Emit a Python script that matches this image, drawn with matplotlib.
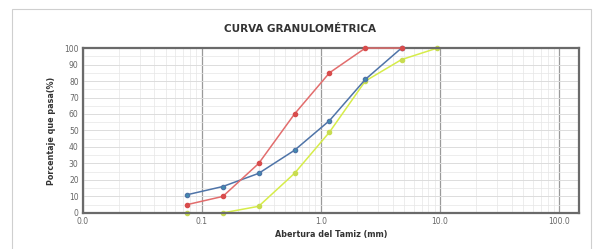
import matplotlib
matplotlib.use("Agg")
import matplotlib.pyplot as plt
from matplotlib.ticker import FixedLocator, NullFormatter
from matplotlib.patches import Rectangle

sieve_sizes = [0.075, 0.15, 0.3, 0.6, 1.18, 2.36, 4.75, 9.5]
blue_sizes = [0.075, 0.15, 0.3, 0.6, 1.18, 2.36, 4.75]
blue_vals = [11, 16, 24, 38, 56, 81, 100]
red_sizes = [0.075, 0.15, 0.3, 0.6, 1.18, 2.36, 4.75]
red_vals = [5, 10, 30, 60, 85, 100, 100]
yellow_sizes = [0.075, 0.15, 0.3, 0.6, 1.18, 2.36, 4.75, 9.5]
yellow_vals = [0, 0, 4, 24, 49, 80, 93, 100]
xtick_vals = [0.01, 0.1, 1, 10, 100]
xtick_labels = ["0.0", "0.1", "1.0", "10.0", "100.0"]
ytick_vals = list(range(0, 101, 10))

fig = plt.figure(figsize=(6, 2.49), dpi=100)
fig.patch.set_facecolor("white")
fig.add_artist(Rectangle((0.02, -0.1), 0.965, 1.065, transform=fig.transFigure,
                         fill=False, edgecolor="#cfcfcf", linewidth=0.8))

ax = fig.add_axes([0.138, 0.145, 0.827, 0.662])
ax.set_xscale("log")
ax.set_xlim(0.01, 147)
ax.set_ylim(0, 100)

minor_x = [m * 10.0 ** e for e in range(-2, 3) for m in range(2, 10) if m * 10.0 ** e < 147]
ax.xaxis.set_major_locator(FixedLocator(xtick_vals))
ax.xaxis.set_minor_locator(FixedLocator(minor_x))
ax.xaxis.set_minor_formatter(NullFormatter())
ax.set_xticks(xtick_vals)
ax.set_xticklabels(xtick_labels)
ax.set_yticks(ytick_vals)
ax.yaxis.set_minor_locator(FixedLocator(list(range(5, 100, 10))))

ax.grid(which="major", axis="x", color="#9a9a9a", linewidth=0.9)
ax.grid(which="major", axis="y", color="#dcdcdc", linewidth=0.7)
ax.grid(which="minor", color="#e6e6e6", linewidth=0.5)
ax.set_axisbelow(True)

ax.tick_params(which="both", length=0, labelsize=5.5, labelcolor="#666666", pad=3)
for s in ax.spines.values():
    s.set_color("#6a6a6a")
    s.set_linewidth(1.6)

ax.plot(yellow_sizes, yellow_vals, color="#d6ec4a", marker="o", markersize=3, linewidth=1.1,
        markerfacecolor="#c8dc50", markeredgecolor="#c8dc50", zorder=2, clip_on=False)
ax.plot(blue_sizes, blue_vals, color="#4f74a8", marker="o", markersize=3, linewidth=1.1,
        markerfacecolor="#3f8fb0", markeredgecolor="#4f74a8", zorder=3, clip_on=False)
ax.plot(red_sizes, red_vals, color="#e26d6d", marker="o", markersize=3, linewidth=1.1,
        markerfacecolor="#d84c4c", markeredgecolor="#d84c4c", zorder=4, clip_on=False)

fig.text(0.5, 0.885, "CURVA GRANULOMÉTRICA", ha="center", va="center",
         fontsize=7.5, fontweight="bold", color="#333333")
ax.set_xlabel("Abertura del Tamiz (mm)", fontsize=5.8, fontweight="bold", color="#333333", labelpad=3)
ax.set_ylabel("Porcentaje que pasa(%)", fontsize=5.8, fontweight="bold", color="#333333", labelpad=6)

fig.savefig("out.png", dpi=100)
